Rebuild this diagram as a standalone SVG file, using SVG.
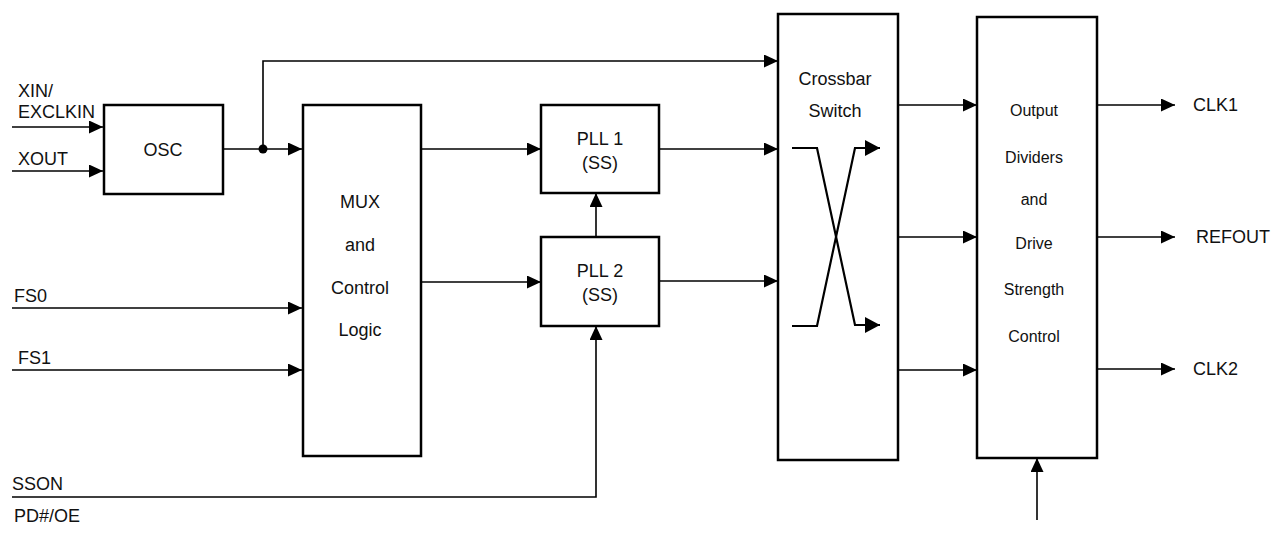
<svg xmlns="http://www.w3.org/2000/svg" width="1283" height="535" viewBox="0 0 1283 535">
<style>
.box{fill:#fff;stroke:#000;stroke-width:2.5}
.ln{fill:none;stroke:#000;stroke-width:1.6}
.ar{fill:none;stroke:#000;stroke-width:1.6;marker-end:url(#ah)}
.xr{fill:none;stroke:#000;stroke-width:2.2;marker-end:url(#ahb)}
text{font-family:"Liberation Sans",Arial,sans-serif;font-size:18px;fill:#111}
.c{text-anchor:middle}
.s{font-size:16px}
</style>
<defs>
<marker id="ah" markerUnits="userSpaceOnUse" markerWidth="14" markerHeight="13" refX="14" refY="6.5" orient="auto">
<path d="M0,0 L14,6.5 L0,13 z" fill="#000"/>
</marker>
<marker id="ahb" markerUnits="userSpaceOnUse" markerWidth="15" markerHeight="16" refX="15" refY="8" orient="auto">
<path d="M0,0 L15,8 L0,16 z" fill="#000"/>
</marker>
</defs>
<rect width="1283" height="535" fill="#fff"/>
<g id="connectors">
<path class="ar" d="M12,127 H103"/>
<path class="ar" d="M12,171 H103"/>
<path class="ar" d="M223,149 H302"/>
<path class="ar" d="M263,149 V61 H778"/>
<circle cx="263" cy="149" r="4.5" fill="#000"/>
<path class="ar" d="M12,308 H302"/>
<path class="ar" d="M12,370 H302"/>
<path class="ar" d="M421,149 H541"/>
<path class="ar" d="M421,282 H541"/>
<path class="ar" d="M596,237 V193"/>
<path class="ar" d="M12,497 H596 V326"/>
<path class="ar" d="M659,149 H778"/>
<path class="ar" d="M659,281 H778"/>
<path class="ar" d="M898,105 H977"/>
<path class="ar" d="M898,237 H977"/>
<path class="ar" d="M898,370 H977"/>
<path class="ar" d="M1097,105 H1175"/>
<path class="ar" d="M1097,237 H1175"/>
<path class="ar" d="M1097,369 H1175"/>
<path class="ar" d="M1037,520 V458"/>
</g>
<g id="osc">
<rect class="box" x="104" y="105" width="119" height="89"/>
<text class="c" x="163" y="156">OSC</text>
</g>
<g id="mux">
<rect class="box" x="303" y="105" width="118" height="351"/>
<text class="c" x="360" y="208">MUX</text>
<text class="c" x="360" y="251">and</text>
<text class="c" x="360" y="294">Control</text>
<text class="c" x="360" y="336">Logic</text>
</g>
<g id="pll1">
<rect class="box" x="541" y="105" width="118" height="88"/>
<text class="c" x="600" y="145">PLL 1</text>
<text class="c" x="600" y="169">(SS)</text>
</g>
<g id="pll2">
<rect class="box" x="541" y="237" width="118" height="89"/>
<text class="c" x="600" y="277">PLL 2</text>
<text class="c" x="600" y="301">(SS)</text>
</g>
<g id="crossbar">
<rect class="box" x="778" y="14" width="120" height="446"/>
<text class="c" x="835" y="85">Crossbar</text>
<text class="c" x="835" y="117">Switch</text>
<path class="xr" d="M792,148 H817 L855,325 H880"/>
<path class="xr" d="M792,326 H817 L855,148 H880"/>
</g>
<g id="output">
<rect class="box" x="977" y="17" width="120" height="441"/>
<text class="c s" x="1034" y="116">Output</text>
<text class="c s" x="1034" y="163">Dividers</text>
<text class="c s" x="1034" y="205">and</text>
<text class="c s" x="1034" y="249">Drive</text>
<text class="c s" x="1034" y="295">Strength</text>
<text class="c s" x="1034" y="342">Control</text>
</g>
<g id="labels">
<text x="18" y="97">XIN/</text>
<text x="18" y="118">EXCLKIN</text>
<text x="18" y="165">XOUT</text>
<text x="14" y="302">FS0</text>
<text x="18" y="364">FS1</text>
<text x="12" y="490">SSON</text>
<text x="14" y="522">PD#/OE</text>
<text x="1193" y="111">CLK1</text>
<text x="1196" y="243">REFOUT</text>
<text x="1193" y="375">CLK2</text>
</g>
</svg>
